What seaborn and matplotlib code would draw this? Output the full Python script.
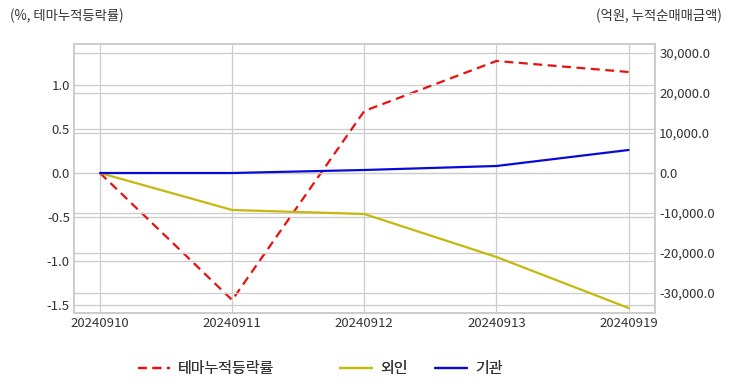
import pandas as pd
import numpy as np
import matplotlib.pyplot as plt
import seaborn as sns
from matplotlib.ticker import FuncFormatter

sns.set_style('whitegrid')
plt.rcParams['font.family'] = ['Noto Sans CJK KR', 'DejaVu Sans']
plt.rcParams['axes.unicode_minus'] = False

dates = ['20240910', '20240911', '20240912', '20240913', '20240919']
theme_rate = [0.0, -1.443, 0.705, 1.273, 1.148]
foreign = [0.0, -9250, -10250, -21000, -33750]
institution = [0.0, 0.0, 750, 1750, 5750]

df = pd.DataFrame({'date': dates, 'theme': theme_rate,
                   'foreign': foreign, 'inst': institution})
df['x'] = range(len(df))

fig = plt.figure(figsize=(7.32, 3.92), dpi=100)
ax = fig.add_axes([74/732, 1 - 313/392, (655-74)/732, (313-44)/392])
ax2 = ax.twinx()

sns.lineplot(data=df, x='x', y='theme', ax=ax, color='#e8110f', lw=1.6,
             linestyle=(0, (4, 2.5)), label='테마누적등락률', legend=False)
sns.lineplot(data=df, x='x', y='foreign', ax=ax2, color='#c4b90c', lw=1.6,
             label='외인', legend=False)
sns.lineplot(data=df, x='x', y='inst', ax=ax2, color='#0a0ad6', lw=1.6,
             label='기관', legend=False)

ax.set_xlim(-0.197, 4.2)
ax.set_ylim(-1.59, 1.466)
ax2.set_ylim(-35000, 32250)
ax.set_xticks(df['x'])
ax.set_xticklabels(dates)
ax.set_yticks([1.0, 0.5, 0.0, -0.5, -1.0, -1.5])
ax2.set_yticks([30000, 20000, 10000, 0, -10000, -20000, -30000])
ax2.yaxis.set_major_formatter(FuncFormatter(lambda v, p: f'{v:,.1f}'))
ax.yaxis.set_major_formatter(FuncFormatter(lambda v, p: f'{v:.1f}'))
for a in (ax, ax2):
    a.set_xlabel('')
    a.set_ylabel('')
    a.tick_params(labelsize=9.5, colors='#333333', pad=3, length=0)
    a.grid(True, color='#cccccc', lw=0.9)
    for s in a.spines.values():
        s.set_color('#cccccc')
        s.set_linewidth(1.2)
ax2.grid(True, axis='y', color='#cccccc', lw=0.9)
ax2.grid(False, axis='x')

fig.text(10/732, 1 - 16/392, '(%, 테마누적등락률)', fontsize=9.6, color='#333333',
         ha='left', va='center')
fig.text(722/732, 1 - 16/392, '(억원, 누적순매매금액)', fontsize=9.6, color='#333333',
         ha='right', va='center')

# legend entries placed one by one, like the original layout
h1, l1 = ax.get_legend_handles_labels()
h2, l2 = ax2.get_legend_handles_labels()
handles = h1 + h2
labels = l1 + l2
starts = [138, 340, 435]
for h, l, x0 in zip(handles, labels, starts):
    leg = fig.legend([h], [l], loc='center left', bbox_to_anchor=(x0/732, 1 - 369/392),
                     frameon=False, fontsize=10.8, handlelength=2.1, handletextpad=0.55,
                     borderpad=0, borderaxespad=0, labelcolor='#333333')
    fig.add_artist(leg)

fig.savefig('out.png', dpi=100)
